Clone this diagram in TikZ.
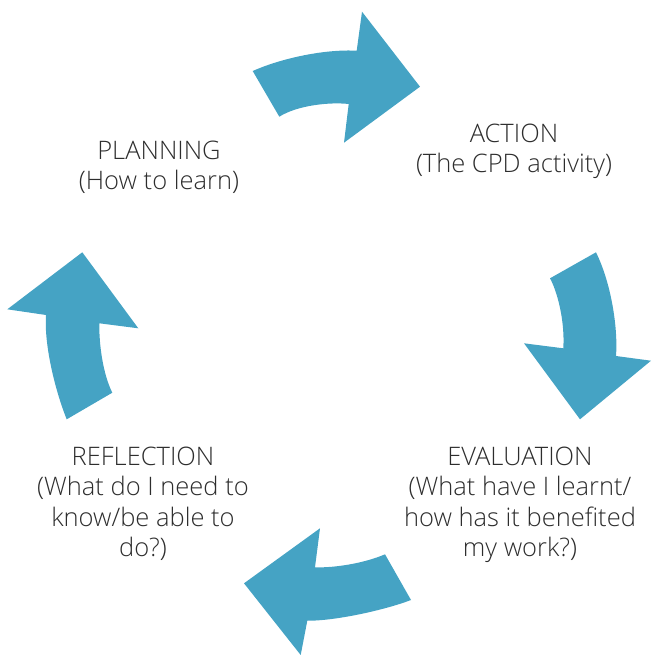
\documentclass[tikz,border=0pt]{standalone}
\usepackage{fontspec}
\setmainfont{Open Sans Light}
\definecolor{cyclearrow}{RGB}{69,163,196}
\definecolor{labeltext}{RGB}{45,45,45}
\tikzset{
  cyclearrowshape/.style={fill=cyclearrow, draw=none},
  stagelabel/.style={align=center, inner sep=0pt, anchor=north, text=labeltext,
    font=\fontsize{25.5}{30.5}\selectfont}
}
\begin{document}
\begin{tikzpicture}[x=1pt, y=-1pt]
\useasboundingbox (0,0) rectangle (651,655);

% top arrow: planning -> action
\fill[cyclearrowshape] (252.7,71) .. controls (282,58) and (325,49) .. (356.7,50.7)
  -- (362,11.7) -- (420,86.7) -- (344,142.7) -- (348.7,104)
  .. controls (330,102) and (298,105) .. (279.3,116.7) -- cycle;

% right arrow: action -> evaluation
\fill[cyclearrowshape] (596,252.3) .. controls (612,285) and (618,330) .. (616,356)
  -- (651,360.7) -- (580,419.3) -- (524,343.3) -- (563.3,348.3)
  .. controls (565,320) and (557,291) .. (550,278.3) -- cycle;

% bottom arrow: evaluation -> reflection
\fill[cyclearrowshape] (411,600) .. controls (385,610) and (335,621) .. (307.3,620.7)
  -- (300.7,655) -- (244,583.3) -- (320,528.3) -- (315,567.3)
  .. controls (335,568) and (365,563) .. (385,554.3) -- cycle;

% left arrow: reflection -> planning
\fill[cyclearrowshape] (66.7,419.3) .. controls (55,390) and (44,345) .. (46,315)
  -- (7.3,309.3) -- (82.3,252.3) -- (138.3,328.3) -- (99.3,323.3)
  .. controls (99,345) and (103,374) .. (112.3,392.7) -- cycle;

% stage labels
\node[stagelabel] (planning) at (159,140.5) {PLANNING\\(How to learn)};
\node[stagelabel] (action) at (514,123.5) {ACTION\\(The CPD activity)};
\node[stagelabel] (reflection) at (143,446.5) {REFLECTION\\(What do I need to\\know/be able to\\do?)};
\node[stagelabel] (evaluation) at (520,446.5) {EVALUATION\\(What have I learnt/\\how has it benefited\\my work?)};
\end{tikzpicture}
\end{document}
